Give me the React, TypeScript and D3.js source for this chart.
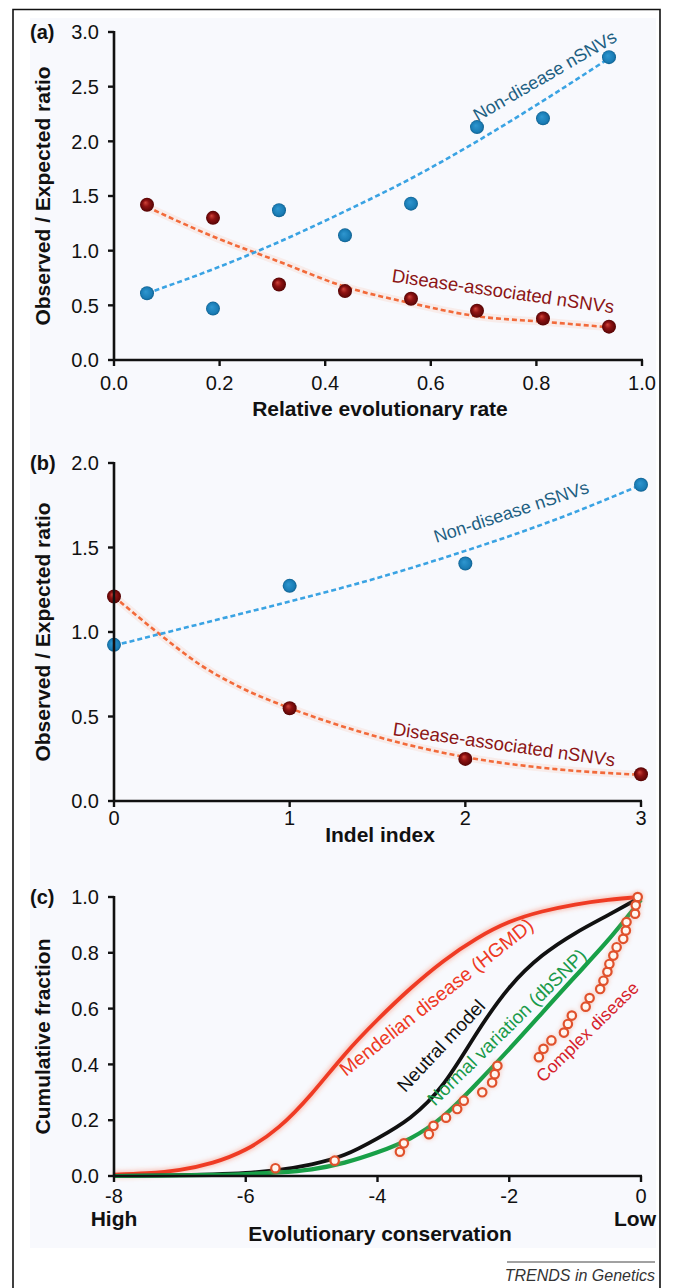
import React from 'react';
import * as d3 from 'd3';

const FONT = '"Liberation Sans", Arial, Helvetica, sans-serif';

// ---- (a) observed/expected ratio vs relative evolutionary rate
const rateBins = [0.0625, 0.1875, 0.3125, 0.4375, 0.5625, 0.6875, 0.8125, 0.9375];
const rateNonDisease = [0.61, 0.47, 1.37, 1.14, 1.43, 2.13, 2.21, 2.77];
const rateDisease = [1.42, 1.3, 0.69, 0.63, 0.56, 0.45, 0.38, 0.305];
const rateNonDiseaseFit = [0.61, 0.83, 1.08, 1.36, 1.66, 2.0, 2.37, 2.76];
const rateDiseaseFit = [1.4, 1.13, 0.9, 0.67, 0.52, 0.4, 0.35, 0.3];
const rateTicks = [0, 0.2, 0.4, 0.6, 0.8, 1.0];
const ratioTicksA = [0, 0.5, 1, 1.5, 2, 2.5, 3];

// ---- (b) observed/expected ratio vs indel index
const indelIdx = [0, 1, 2, 3];
const indelNonDisease = [0.924, 1.273, 1.405, 1.871];
const indelDisease = [1.21, 0.549, 0.249, 0.158];
const indelFitX = [0, 0.25, 0.5, 0.75, 1, 1.5, 2, 2.5, 3];
const indelNonDiseaseFit = [0.92, 0.985, 1.05, 1.115, 1.18, 1.32, 1.48, 1.66, 1.87];
const indelDiseaseFit = [1.21, 0.995, 0.8, 0.657, 0.55, 0.38, 0.26, 0.19, 0.155];
const indelTicks = [0, 1, 2, 3];
const ratioTicksB = [0, 0.5, 1, 1.5, 2];

// ---- (c) cumulative fraction vs evolutionary conservation
const consX = [-8, -7.5, -7, -6.5, -6, -5.5, -5, -4.5, -4, -3.5, -3, -2.5, -2, -1.5, -1, -0.5, 0];
const mendelian = [0.005, 0.01, 0.022, 0.048, 0.095, 0.175, 0.295, 0.435, 0.56, 0.672, 0.77, 0.85, 0.91, 0.948, 0.973, 0.99, 1.0];
const neutral = [0, 0.001, 0.003, 0.006, 0.011, 0.022, 0.042, 0.076, 0.135, 0.21, 0.33, 0.51, 0.675, 0.79, 0.87, 0.935, 1.0];
const dbsnp = [0, 0.001, 0.002, 0.004, 0.007, 0.013, 0.024, 0.048, 0.085, 0.135, 0.215, 0.33, 0.455, 0.585, 0.715, 0.845, 0.99];
const complexX = [-5.55, -4.65, -3.66, -3.6, -3.22, -3.15, -2.96, -2.79, -2.69, -2.41, -2.26, -2.22, -2.18,
  -1.55, -1.48, -1.36, -1.17, -1.11, -1.05, -0.84, -0.78, -0.62, -0.57, -0.51, -0.48, -0.42, -0.37,
  -0.27, -0.23, -0.22, -0.09, -0.08, -0.05];
const complexY = [0.028, 0.055, 0.087, 0.117, 0.15, 0.18, 0.209, 0.24, 0.27, 0.3, 0.335, 0.365, 0.395,
  0.426, 0.456, 0.486, 0.514, 0.545, 0.575, 0.607, 0.638, 0.67, 0.7, 0.732, 0.76, 0.79, 0.82,
  0.85, 0.88, 0.91, 0.94, 0.97, 1.0];
const consTicks = [-8, -6, -4, -2, 0];
const fracTicks = [0, 0.2, 0.4, 0.6, 0.8, 1.0];

const BLUE_TXT = '#1d5f82';
const RED_TXT = '#8c1515';

type Scale = d3.ScaleLinear<number, number>;

function Axes({ x, y, xTicks, yTicks, xFmt, yFmt, xLabelDy, label, xTitle, xTitleY, yTitle }: {
  x: Scale; y: Scale; xTicks: number[]; yTicks: number[];
  xFmt: (d: number) => string; yFmt: (d: number) => string; xLabelDy: number;
  label: string; xTitle: string; xTitleY: number; yTitle: string;
}) {
  const [x0, x1] = x.range();
  const [y0, y1] = y.range();
  const cy = (y0 + y1) / 2;
  return (
    <g fontFamily={FONT}>
      <line x1={x0} x2={x0} y1={y1 - 1} y2={y0 + 1} stroke="#111" strokeWidth={2.6} />
      <line x1={x0 - 1} x2={x1 + 1} y1={y0} y2={y0} stroke="#111" strokeWidth={2.6} />
      {yTicks.map(t => (
        <g key={'y' + t}>
          <line x1={x0 - 6} x2={x0} y1={y(t)} y2={y(t)} stroke="#111" strokeWidth={2.4} />
          <text x={99} y={y(t)} dy="0.36em" textAnchor="end" fontSize={20} fill="#111">{yFmt(t)}</text>
        </g>
      ))}
      {xTicks.map(t => (
        <g key={'x' + t}>
          <line x1={x(t)} x2={x(t)} y1={y0} y2={y0 + 6} stroke="#111" strokeWidth={2.4} />
          <text x={x(t)} y={y0 + xLabelDy} textAnchor="middle" fontSize={20} fill="#111">{xFmt(t)}</text>
        </g>
      ))}
      <text x={30} y={y1 + 7} fontSize={20} fontWeight="bold" fill="#111">{label}</text>
      <text transform={`translate(50,${cy}) rotate(-90)`} textAnchor="middle" fontSize={21} fontWeight="bold" fill="#111">{yTitle}</text>
      <text x={380} y={xTitleY} textAnchor="middle" fontSize={21} fontWeight="bold" fill="#111">{xTitle}</text>
    </g>
  );
}

function Label({ x, y, angle, color, size, text }: { x: number; y: number; angle: number; color: string; size: number; text: string }) {
  return (
    <text transform={`translate(${x},${y}) rotate(${angle})`} fontFamily={FONT} fontSize={size} fill={color}>{text}</text>
  );
}

function RatioPanel({ x, y, xs, blue, red, fitX, blueFit, redFit }: {
  x: Scale; y: Scale; xs: number[]; blue: number[]; red: number[]; fitX: number[]; blueFit: number[]; redFit: number[];
}) {
  const line = d3.line<number>().x((_, i) => x(fitX[i])).curve(d3.curveMonotoneX);
  const bluePath = line.y(d => y(d))(blueFit) || '';
  const redPath = line.y(d => y(d))(redFit) || '';
  return (
    <g>
      <path d={redPath} fill="none" stroke="#f6a07a" strokeOpacity={0.14} strokeWidth={8} />
      <path d={redPath} fill="none" stroke="#f26a3a" strokeWidth={2.6} strokeDasharray="5 3" />
      <path d={bluePath} fill="none" stroke="#3aa3e3" strokeWidth={2.6} strokeDasharray="5 3" />
      {xs.map((v, i) => (
        <circle key={'b' + i} cx={x(v)} cy={y(blue[i])} r={7} fill="url(#blueDot)" />
      ))}
      {xs.map((v, i) => (
        <circle key={'r' + i} cx={x(v)} cy={y(red[i])} r={7} fill="url(#redDot)" />
      ))}
    </g>
  );
}

export default function App() {
  // panel scales
  const xA = d3.scaleLinear().domain([0, 1]).range([114, 642]);
  const yA = d3.scaleLinear().domain([0, 3]).range([360, 32]);
  const xB = d3.scaleLinear().domain([0, 3]).range([114, 641]);
  const yB = d3.scaleLinear().domain([0, 2]).range([801, 463]);
  const xC = d3.scaleLinear().domain([-8, 0]).range([114, 641]);
  const yC = d3.scaleLinear().domain([0, 1]).range([1176, 897]);

  const f1 = d3.format('.1f');
  const curve = (vals: number[]) =>
    d3.line<number>().x((_, i) => xC(consX[i])).y(d => yC(Math.max(0, d))).curve(d3.curveNatural)(vals) || '';

  return (
    <svg width={674} height={1288} style={{ position: 'absolute', left: 0, top: 0, background: '#fff' }}>
      <defs>
        <radialGradient id="blueDot" cx="50%" cy="50%" r="50%" fx="40%" fy="38%">
          <stop offset="0%" stopColor="#2f97d0" />
          <stop offset="75%" stopColor="#1a7db6" />
          <stop offset="100%" stopColor="#10608f" />
        </radialGradient>
        <radialGradient id="redDot" cx="50%" cy="50%" r="50%" fx="38%" fy="34%">
          <stop offset="0%" stopColor="#d0453a" />
          <stop offset="45%" stopColor="#8e1212" />
          <stop offset="100%" stopColor="#550404" />
        </radialGradient>
        <filter id="soft" filterUnits="userSpaceOnUse" x="0" y="0" width="674" height="1288">
          <feGaussianBlur stdDeviation="2" />
        </filter>
      </defs>

      <rect x={30} y={18} width={626} height={1230} fill="#f8f9fd" />
      <path d="M13,1288 V9.5 H660 V1288" fill="none" stroke="#111" strokeWidth={1.6} />

      {/* (a) */}
      <RatioPanel x={xA} y={yA} xs={rateBins} blue={rateNonDisease} red={rateDisease}
        fitX={rateBins} blueFit={rateNonDiseaseFit} redFit={rateDiseaseFit} />
      <Axes x={xA} y={yA} xTicks={rateTicks} yTicks={ratioTicksA} xFmt={f1} yFmt={f1} xLabelDy={30}
        label="(a)" xTitle="Relative evolutionary rate" xTitleY={416} yTitle="Observed / Expected ratio" />
      <Label x={xA(0.689)} y={yA(2.18)} angle={-30} color={BLUE_TXT} size={18} text="Non-disease nSNVs" />
      <Label x={xA(0.525)} y={yA(0.716)} angle={8.1} color={RED_TXT} size={18.5} text="Disease-associated nSNVs" />

      {/* (b) */}
      <RatioPanel x={xB} y={yB} xs={indelIdx} blue={indelNonDisease} red={indelDisease}
        fitX={indelFitX} blueFit={indelNonDiseaseFit} redFit={indelDiseaseFit} />
      <Axes x={xB} y={yB} xTicks={indelTicks} yTicks={ratioTicksB} xFmt={d3.format('d')} yFmt={f1} xLabelDy={24}
        label="(b)" xTitle="Indel index" xTitleY={842} yTitle="Observed / Expected ratio" />
      <Label x={xB(1.834)} y={yB(1.526)} angle={-18.2} color={BLUE_TXT} size={18} text="Non-disease nSNVs" />
      <Label x={xB(1.584)} y={yB(0.391)} angle={8.1} color={RED_TXT} size={18.5} text="Disease-associated nSNVs" />

      {/* (c) */}
      <g>
        <path d={curve(mendelian)} fill="none" stroke="#f5603f" strokeOpacity={0.35} strokeWidth={7} filter="url(#soft)" />
        <path d={curve(mendelian)} fill="none" stroke="#ef3b24" strokeWidth={3.8} />
        <path d={curve(neutral)} fill="none" stroke="#111" strokeWidth={3.8} />
        <path d={curve(dbsnp)} fill="none" stroke="#18a048" strokeWidth={4.2} />
        {complexX.map((v, i) => (
          <circle key={'cg' + i} cx={xC(v)} cy={yC(complexY[i])} r={6} fill="#f08a6a" opacity={0.35} filter="url(#soft)" />
        ))}
        {complexX.map((v, i) => (
          <circle key={'c' + i} cx={xC(v)} cy={yC(complexY[i])} r={4.2} fill="#fff6f0" stroke="#e0512c" strokeWidth={2.2} />
        ))}
      </g>
      <Axes x={xC} y={yC} xTicks={consTicks} yTicks={fracTicks} xFmt={d => String(d)} yFmt={f1} xLabelDy={27}
        label="(c)" xTitle="Evolutionary conservation" xTitleY={1241} yTitle="Cumulative fraction" />
      <text x={xC(-8)} y={1226} textAnchor="middle" fontFamily={FONT} fontSize={21} fontWeight="bold" fill="#111">High</text>
      <text x={656} y={1226} textAnchor="end" fontFamily={FONT} fontSize={21} fontWeight="bold" fill="#111">Low</text>
      <Label x={xC(-4.478)} y={yC(0.355)} angle={-38.3} color="#ee3a25" size={19.5} text="Mendelian disease (HGMD)" />
      <Label x={xC(-3.58)} y={yC(0.297)} angle={-46.7} color="#111" size={19} text="Neutral model" />
      <Label x={xC(-3.127)} y={yC(0.248)} angle={-44.5} color="#1a9a4a" size={18.8} text="Normal variation (dbSNP)" />
      <Label x={xC(-1.483)} y={yC(0.332)} angle={-44.3} color="#d61f2b" size={17.6} text="Complex disease" />

      <line x1={507} x2={655} y1={1262} y2={1262} stroke="#444" strokeWidth={1} />
      <text x={655} y={1281} textAnchor="end" fontFamily={FONT} fontSize={16} fontStyle="italic" fill="#333">TRENDS in Genetics</text>
    </svg>
  );
}
